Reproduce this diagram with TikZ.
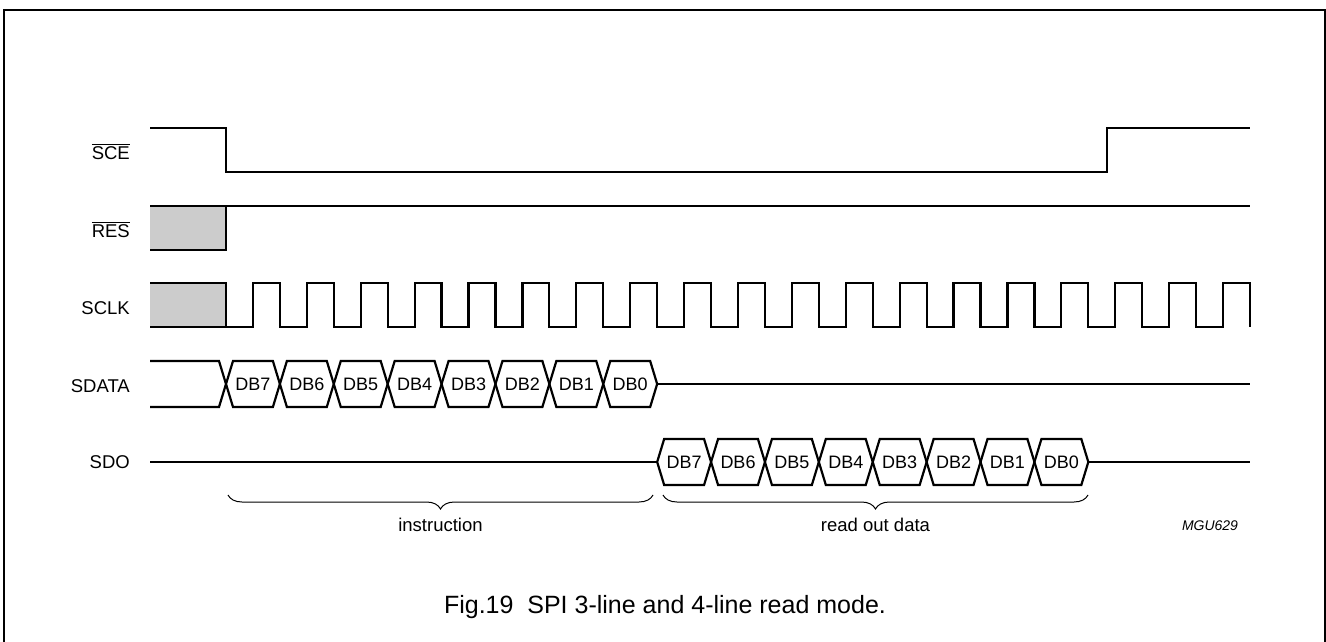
\documentclass[tikz,border=0pt]{standalone}
\usepackage{fontspec}
\setmainfont{Liberation Sans}
\usetikzlibrary{decorations.pathreplacing}
\definecolor{boxgray}{RGB}{204,204,204}
\begin{document}
\begin{tikzpicture}[x=1pt,y=-1pt,
  wave/.style={line width=2.2pt},
  frm/.style={line width=1.6pt},
  lbl/.style={anchor=base east, font=\fontsize{18.5}{22}\selectfont, inner sep=0pt},
  dbtxt/.style={font=\fontsize{18}{22}\selectfont, inner sep=0pt},
  brc/.style={decorate, decoration={brace, mirror, amplitude=14pt, aspect=0.5}, line width=1pt},
  undertxt/.style={anchor=base, font=\fontsize{18.5}{22}\selectfont, inner sep=0pt}]
\useasboundingbox (0,0) rectangle (1326,642);
% frame
\draw[frm] (4,642) -- (4,10) -- (1325,10) -- (1325,642);
% labels
\node[lbl] (lsce) at (130,159) {$\overline{\hbox{SCE}}$};
\node[lbl] (lres) at (130,237) {$\overline{\hbox{RES}}$};
\node[lbl] (lsclk) at (130,314) {SCLK};
\node[lbl] (lsdata) at (130,392) {SDATA};
\node[lbl] (lsdo) at (130,468) {SDO};
% SCE
\draw[wave] (150,128) -- (226,128) -- (226,172) -- (1107,172) -- (1107,128) -- (1250,128);
% RES
\fill[boxgray] (150,206) rectangle (226,250);
\draw[wave] (150,250) -- (226,250) -- (226,206);
\draw[wave] (150,206) -- (1250,206);
% SCLK
\fill[boxgray] (150,283) rectangle (226,327);
\draw[wave] (150,283) -- (226,283) -- (226,327);
\draw[wave] (150,327) foreach \k in {0,...,18} {
  -- ({252.947+53.895*\k},327) -- ({252.947+53.895*\k},283)
  -- ({279.895+53.895*\k},283) -- ({279.895+53.895*\k},327) };
% SDATA
\draw[wave] (150,361) -- (219,361) -- (226,384) -- (219,407) -- (150,407);
\foreach \k/\lab in {0/DB7,1/DB6,2/DB5,3/DB4,4/DB3,5/DB2,6/DB1,7/DB0} {
  \pgfmathsetmacro\a{226+53.895*\k}
  \pgfmathsetmacro\b{226+53.895*(\k+1)}
  \draw[wave] (\a,384) -- (\a+7,361) -- (\b-7,361) -- (\b,384) -- (\b-7,407) -- (\a+7,407) -- cycle;
  \node[dbtxt] (sd\k) at ({(\a+\b)/2},384) {\lab};
}
\draw[wave] (657.16,384) -- (1250,384);
% SDO
\draw[wave] (150,462) -- (657.16,462);
\foreach \k/\lab in {0/DB7,1/DB6,2/DB5,3/DB4,4/DB3,5/DB2,6/DB1,7/DB0} {
  \pgfmathsetmacro\a{657.16+53.895*\k}
  \pgfmathsetmacro\b{657.16+53.895*(\k+1)}
  \draw[wave] (\a,462) -- (\a+7,439) -- (\b-7,439) -- (\b,462) -- (\b-7,485) -- (\a+7,485) -- cycle;
  \node[dbtxt] (so\k) at ({(\a+\b)/2},462) {\lab};
}
\draw[wave] (1088.3,462) -- (1250,462);
% braces
\coordinate (b1s) at (228,495);
\coordinate (b1e) at (653,495);
\coordinate (b2s) at (663,495);
\coordinate (b2e) at (1088,495);
\draw[brc] (b1s) -- (b1e);
\draw[brc] (b2s) -- (b2e);
\node[undertxt] (tinstr) at (440.5,531) {instruction};
\node[undertxt] (tread) at (875.5,531) {read out data};
\node[anchor=base, inner sep=0pt, font=\fontsize{14}{16}\selectfont\itshape] (tmgu) at (1210,530) {MGU629};
% caption
\node[anchor=base, inner sep=0pt, font=\fontsize{25}{30}\selectfont] (cap) at (665,613) {Fig.19\ \ SPI 3-line and 4-line read mode.};
\end{tikzpicture}
\end{document}
